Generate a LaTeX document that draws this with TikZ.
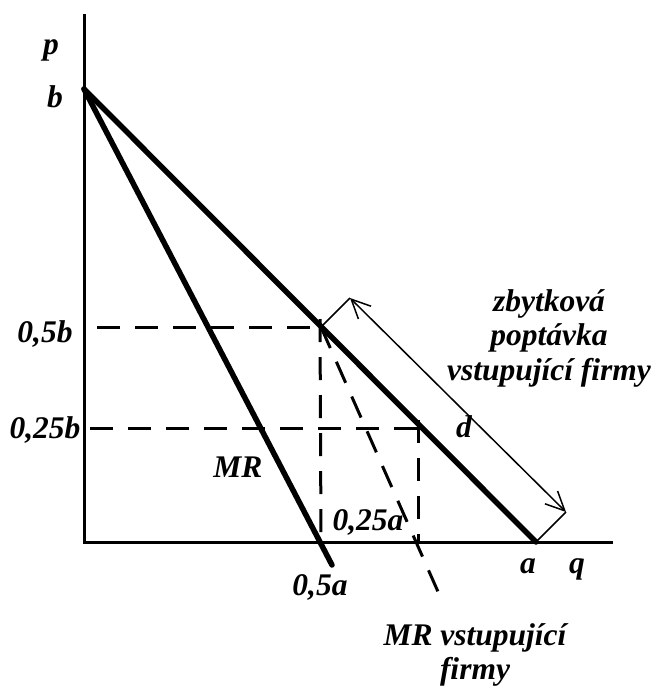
\documentclass[tikz,border=0pt]{standalone}
\usepackage{fontspec}
\setmainfont{Liberation Serif}
\usetikzlibrary{arrows.meta,calc}
\tikzset{
  osa/.style      = {line width=3pt},
  krivka/.style   = {line width=5.5pt, line cap=round},
  pomocna/.style  = {line width=3pt, dash pattern=on 23pt off 15pt},
  vynaska/.style  = {line width=1.5pt},
  sipka/.style    = {{Straight Barb[length=19pt,width=18pt]}-{Straight Barb[length=19pt,width=18pt]},
                     line width=1.5pt},
  popis/.style    = {font=\fontsize{31.5}{34.5}\selectfont\bfseries\itshape, inner sep=0pt},
  popisb/.style   = {popis, anchor=base},
}
\begin{document}
\begin{tikzpicture}[x=1pt,y=-1pt]
  \useasboundingbox (0,0) rectangle (656,689);
  \coordinate (O) at (84,542);
  \coordinate (Pvrch) at (84,14);
  \coordinate (Qkonec) at (613,542);
  \coordinate (B) at (84,89);
  \coordinate (A) at (536,542);
  \coordinate (H) at (321,327);
  \coordinate (D) at (421,428);
  \coordinate (MRkonec) at (332,565);
  \coordinate (MRvkonec) at (443,603);
  \draw[osa] (Pvrch) -- (O) -- (Qkonec);
  \draw[pomocna] ([xshift=13]O |- H) -- (H);
  \draw[pomocna] ([xshift=6]O |- D) -- ([xshift=-3]D);
  \draw[pomocna] ([xshift=-1,yshift=8]H) -- (H |- O);
  \draw[pomocna] ([xshift=-3,yshift=8]D) -- ([xshift=-3]D |- O);
  \draw[pomocna] (H) -- (MRvkonec);
  \draw[krivka] (B) -- (A);
  \draw[krivka] (B) -- (MRkonec);
  \draw[vynaska] (H) -- ++(29,-29) coordinate (S1);
  \draw[vynaska] (A) -- ++(30,-30) coordinate (S2);
  \draw[sipka] (S1) -- (S2);
  \node[popisb] (p) at (51,54) {p};
  \node[popisb] (b) at (55,107) {b};
  \node[popisb] (b05) at (45,342) {0,5b};
  \node[popisb] (b025) at (45,438) {0,25b};
  \node[popisb] (MR) at (238,477) {MR};
  \node[popisb] (a025) at (368,530) {0,25a};
  \node[popisb] (a05) at (320,595) {0,5a};
  \node[popisb] (a) at (528,573) {a};
  \node[popisb] (q) at (577,573) {q};
  \node[popisb] (d) at (464,437) {d};
  \node[popis, align=center] (zbyt) at (549,338) {zbytková\\poptávka\\vstupující firmy};
  \node[popis, align=center] (MRv) at (475,655) {MR vstupující\\firmy};
\end{tikzpicture}
\end{document}
